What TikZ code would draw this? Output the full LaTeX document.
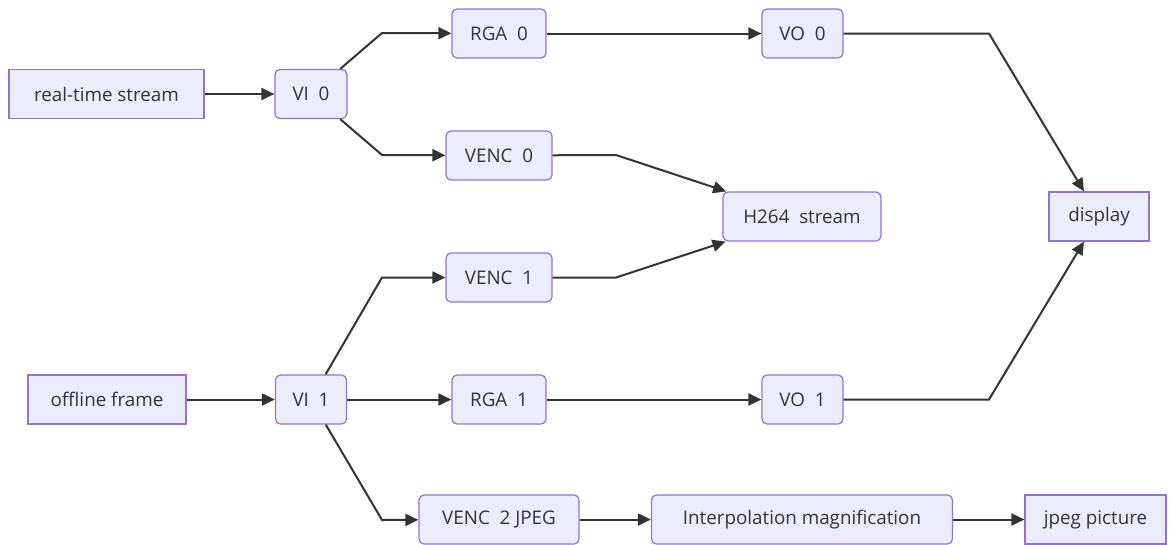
\documentclass[tikz,border=0pt]{standalone}
\usepackage{fontspec}
\setmainfont{Open Sans}
\usetikzlibrary{arrows.meta}
\definecolor{nodefill}{HTML}{ECECFF}
\definecolor{nodeline}{HTML}{9370DB}
\definecolor{txt}{HTML}{333333}
\definecolor{edgec}{HTML}{333333}
\tikzset{
  box/.style={draw=nodeline, fill=nodefill, line width=1.2pt, text=txt,
    inner sep=0pt, minimum height=49pt, font=\fontsize{18.8}{22}\selectfont},
  rbox/.style={box, rounded corners=5pt},
  edge/.style={draw=edgec, line width=2pt,
    -{Triangle[length=13pt,width=12pt]}},
}
\begin{document}
\begin{tikzpicture}[x=1pt,y=-1pt]
\useasboundingbox (0,0) rectangle (1170,544);
% nodes
\node[box,  minimum width=195pt] (rts)    at (106.5,94)  {real-time stream};
\node[rbox, minimum width=72pt]  (vi0)    at (311,94)    {VI\ \ 0};
\node[rbox, minimum width=94pt]  (rga0)   at (499,33.5)  {RGA\ \ 0};
\node[rbox, minimum width=81pt]  (vo0)    at (802.5,33.5){VO\ \ 0};
\node[rbox, minimum width=106pt] (venc0)  at (499,155.5) {VENC\ \ 0};
\node[rbox, minimum width=158pt] (h264)   at (802,216.5) {H264\ \ stream};
\node[box,  minimum width=100pt] (disp)   at (1099,216.5){display};
\node[rbox, minimum width=106pt] (venc1)  at (499,277.5) {VENC\ \ 1};
\node[box,  minimum width=158pt] (off)    at (107,399.5) {offline frame};
\node[rbox, minimum width=71pt]  (vi1)    at (311,399.5) {VI\ \ 1};
\node[rbox, minimum width=94pt]  (rga1)   at (499,399.5) {RGA\ \ 1};
\node[rbox, minimum width=81pt]  (vo1)    at (802.5,399.5){VO\ \ 1};
\node[rbox, minimum width=160pt] (venc2)  at (499,519.5) {VENC\ \ 2 JPEG};
\node[rbox, minimum width=301pt] (interp) at (802,519.5) {Interpolation magnification};
\node[box,  minimum width=141pt] (jpeg)   at (1095.5,519.5){jpeg picture};
% bend points
\coordinate (b1) at (382,33);
\coordinate (b2) at (382,155);
\coordinate (b3) at (616,155);
\coordinate (b4) at (616,277.5);
\coordinate (b5) at (989,33.5);
\coordinate (b6) at (989,399.5);
\coordinate (b7) at (382,277.5);
\coordinate (b8) at (382,520);
% edges
\draw[edge] (rts) -- (vi0);
\draw[edge] (vi0) -- (b1) -- (rga0);
\draw[edge] (vi0) -- (b2) -- (venc0);
\draw[edge] (rga0) -- (vo0);
\draw[edge] (venc0) -- (b3) -- (h264);
\draw[edge] (venc1) -- (b4) -- (h264);
\draw[edge] (vo0) -- (b5) -- (disp);
\draw[edge] (vo1) -- (b6) -- (disp);
\draw[edge] (off) -- (vi1);
\draw[edge] (vi1) -- (b7) -- (venc1);
\draw[edge] (vi1) -- (rga1);
\draw[edge] (rga1) -- (vo1);
\draw[edge] (vi1) -- (b8) -- (venc2);
\draw[edge] (venc2) -- (interp);
\draw[edge] (interp) -- (jpeg);
\end{tikzpicture}
\end{document}
